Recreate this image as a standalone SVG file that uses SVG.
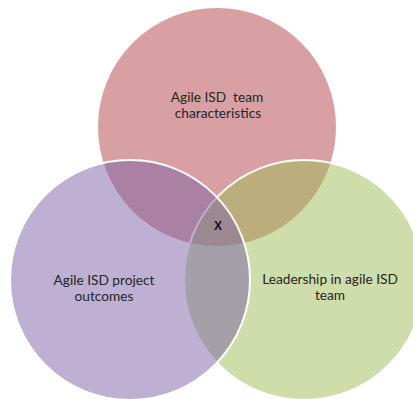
<svg xmlns="http://www.w3.org/2000/svg" width="413" height="399" viewBox="0 0 413 399">
<style>
.c{stroke:#ffffff;stroke-width:2;fill-opacity:0.5}
.t{font-family:Lato,"Open Sans","Liberation Sans",sans-serif;font-size:13.7px;fill:#262626;text-anchor:middle}
.x{font-family:"Liberation Sans",Arial,sans-serif;font-size:12px;font-weight:bold;fill:#111111;text-anchor:middle}
</style>
<rect width="413" height="399" fill="#ffffff"/>
<g id="team-characteristics">
<circle class="c" cx="217" cy="127" r="120" fill="#b14145"/>
</g>
<g id="leadership">
<circle class="c" cx="304" cy="280" r="120" fill="#9dbb55"/>
</g>
<g id="project-outcomes">
<circle class="c" cx="130" cy="280" r="120" fill="#7b61a5"/>
</g>
<g id="labels">
<text class="t" x="217" y="102" xml:space="preserve">Agile ISD  team</text>
<text class="t" x="218" y="118">characteristics</text>
<text class="t" x="104" y="285">Agile ISD project</text>
<text class="t" x="104" y="301">outcomes</text>
<text class="t" x="330" y="284">Leadership in agile ISD</text>
<text class="t" x="330" y="300">team</text>
</g>
<g id="center">
<text class="x" x="218" y="230">X</text>
</g>
</svg>
